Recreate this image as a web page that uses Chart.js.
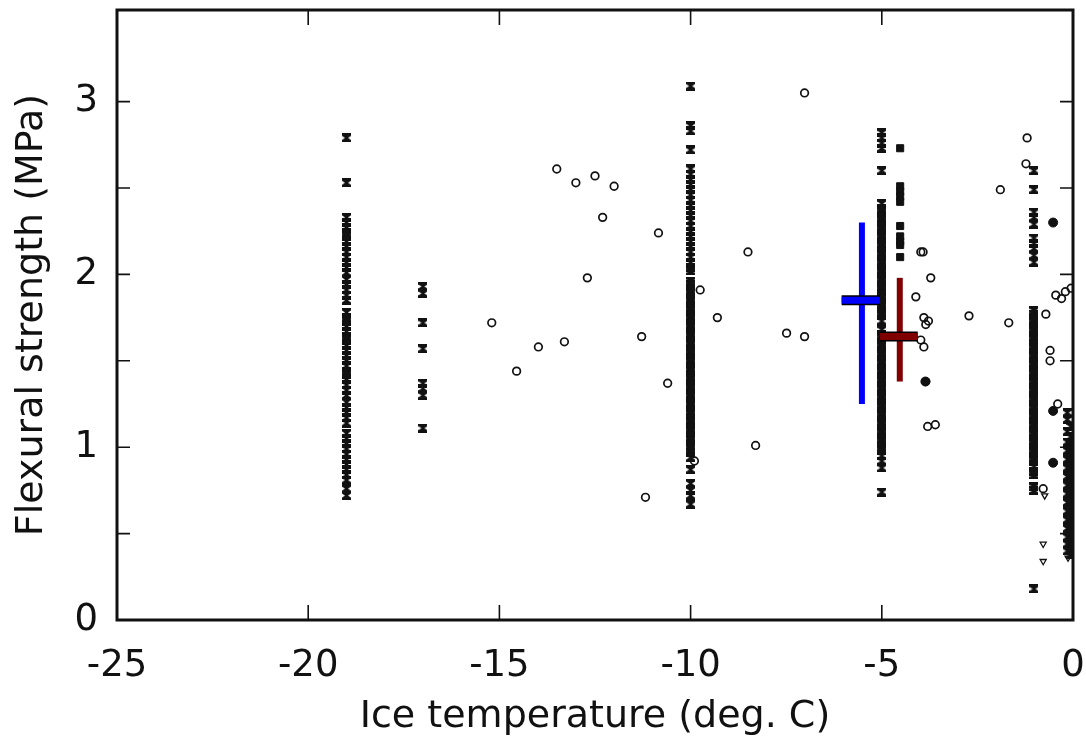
<!DOCTYPE html>
<html>
<head>
<meta charset="utf-8">
<style>
  body { margin: 0; background: #fff; }
  canvas { display: block; }
</style>
</head>
<body>
<canvas id="chart" width="1086" height="740"></canvas>
<script src="https://cdn.jsdelivr.net/npm/chart.js@4/dist/chart.umd.min.js"></script>
<script>
// test temperatures of the hourglass columns
const temp19 = -19, temp17 = -17, temp10 = -10, temp5 = -5, temp1 = -1.02;
const strength19 = [2.79, 2.53, 2.33, 2.30, 2.27, 2.24, 2.22, 2.19, 2.16, 2.13, 2.10, 2.07, 2.04, 2.01, 1.97, 1.94, 1.91, 1.88, 1.85,
  1.78, 1.75, 1.73, 1.70, 1.67, 1.64, 1.62, 1.59, 1.56, 1.53, 1.50, 1.47, 1.44, 1.42, 1.39, 1.36, 1.33, 1.30,
  1.26, 1.23, 1.20, 1.17, 1.14, 1.08, 1.05, 1.02, 0.99, 0.96, 0.93, 0.90, 0.87, 0.84, 0.81, 0.76, 0.72];
const strength17 = [1.93, 1.89, 1.72, 1.57, 1.37, 1.34, 1.30, 1.11];
const strength10 = [3.09, 2.86, 2.83, 2.72, 2.61, 2.58, 2.55, 2.52, 2.49, 2.46, 2.43, 2.40, 2.37, 2.34, 2.31,
  2.28, 2.25, 2.22, 2.19, 2.16, 2.13, 2.10, 2.07, 2.04, 2.02,
  1.96, 1.94, 1.91, 1.89, 1.86, 1.84, 1.81, 1.79, 1.76, 1.74, 1.71, 1.69, 1.66, 1.64, 1.61, 1.59, 1.56, 1.54,
  1.51, 1.49, 1.46, 1.44, 1.41, 1.39, 1.36, 1.34, 1.31, 1.29, 1.26, 1.24, 1.21, 1.19, 1.16, 1.14, 1.11, 1.09,
  1.06, 1.04, 1.01, 0.99, 0.97, 0.94, 0.87, 0.79, 0.75, 0.72, 0.67];
const strength5 = [2.82, 2.79, 2.76, 2.73, 2.60, 2.41, 2.38, 2.36, 2.33, 2.31, 2.28, 2.26, 2.23, 2.21, 2.18, 2.16, 2.13,
  2.11, 2.08, 2.06, 2.03, 2.01, 1.98, 1.96, 1.93, 1.91, 1.88, 1.86, 1.83, 1.81, 1.78, 1.76, 1.73,
  1.68, 1.65, 1.63, 1.60, 1.58, 1.55, 1.53, 1.50, 1.48, 1.45, 1.43, 1.40, 1.38, 1.35, 1.33, 1.30, 1.28, 1.25,
  1.23, 1.20, 1.18, 1.15, 1.13, 1.10, 1.08, 1.05, 1.03, 1.00, 0.98, 0.95, 0.92, 0.88, 0.74];
const strength1 = [2.60, 2.49, 2.36, 2.33, 2.29, 2.21, 2.18, 2.15, 2.11, 2.07,
  1.79, 1.77, 1.74, 1.72, 1.69, 1.67, 1.64, 1.62, 1.59, 1.57, 1.54, 1.52, 1.49, 1.47, 1.44, 1.42, 1.39, 1.37,
  1.34, 1.32, 1.29, 1.27, 1.24, 1.22, 1.19, 1.17, 1.14, 1.12, 1.09, 1.07, 1.04, 1.02, 0.99, 0.97, 0.94, 0.92,
  0.89, 0.86, 0.84, 0.77, 0.75, 0.18];
// dense stack right next to 0 deg C
const nearZeroTemp = [-0.15, -0.06, -0.15, -0.06, -0.15, -0.06, -0.15, -0.06, -0.15, -0.06, -0.15, -0.06, -0.15, -0.06,
  -0.15, -0.06, -0.15, -0.06, -0.15, -0.06, -0.15, -0.06, -0.15, -0.06, -0.15, -0.06, -0.15, -0.06, -0.15, -0.06,
  -0.15, -0.06, -0.15, -0.06];
const nearZeroStrength = [1.16, 1.12, 1.09, 1.06, 1.03, 1.00, 0.98, 0.96, 0.93, 0.91, 0.88, 0.86, 0.83, 0.81, 0.78,
  0.76, 0.73, 0.71, 0.68, 0.66, 0.63, 0.61, 0.58, 0.56, 0.53, 0.51, 0.48, 0.46, 0.44, 0.42, 0.40, 0.38, 1.20, 1.02];
// squares
const squareTemp = -4.52;
const squareStrength = [2.73, 2.51, 2.48, 2.45, 2.42, 2.28, 2.22, 2.19, 2.17, 2.10];
// open circles
const circleTemp = [-15.2, -14.55, -13.98, -13.3, -13.5, -13.0, -12.5, -12.0, -12.3, -12.7, -11.28, -11.18, -10.6, -10.84,
  -9.75, -9.3, -8.5, -8.3, -7.49, -7.02, -7.02, -9.9,
  -3.98, -3.92, -3.72, -4.11, -3.9, -3.78, -3.85, -3.98, -3.9, -3.85, -3.8, -3.6,
  -2.72, -1.9, -1.68, -1.2, -1.23, -0.71, -0.45, -0.3, -0.2, -0.05, -0.6, -0.6, -0.4, -0.78];
const circleStrength = [1.72, 1.44, 1.58, 1.61, 2.61, 2.53, 2.57, 2.51, 2.33, 1.98, 1.64, 0.71, 1.37, 2.24,
  1.91, 1.75, 2.13, 1.01, 1.66, 1.64, 3.05, 0.92,
  2.13, 2.13, 1.98, 1.87, 1.75, 1.73, 1.71, 1.62, 1.58, 1.38, 1.12, 1.13,
  1.76, 2.49, 1.72, 2.79, 2.64, 1.77, 1.88, 1.86, 1.90, 1.92, 1.56, 1.50, 1.25, 0.76];
// filled circles
const dotTemp = [-0.52, -0.52, -0.52, -3.86];
const dotStrength = [2.30, 1.21, 0.91, 1.38];
// open down triangles
const triTemp = [-0.78, -0.78, -0.74, -0.13, -0.06];
const triStrength = [0.44, 0.34, 0.72, 0.36, 0.60];
// mean +/- spread crosses: blue, dark red
const crossTemp = [-5.52, -4.53];
const crossMean = [1.85, 1.64];
const crossLow = [1.25, 1.38];
const crossHigh = [2.30, 1.98];
const crossFrom = [-6.05, -5.05];
const crossTo = [-5.05, -4.06];
const crossColors = ['#0000ff', '#800000'];

const yTicks = [0, 0.5, 1, 1.5, 2, 2.5, 3];
const xTicks = [-20, -15, -10, -5];

const ink = '#111';
const fontFamily = 'DejaVu Sans';

function makeHourglass() {
  const c = document.createElement('canvas');
  c.width = 9; c.height = 9;
  const g = c.getContext('2d');
  g.fillStyle = ink;
  g.beginPath();
  g.moveTo(0, 0); g.lineTo(9, 0); g.lineTo(9, 2.5); g.lineTo(6, 4.5); g.lineTo(9, 6.5); g.lineTo(9, 9);
  g.lineTo(0, 9); g.lineTo(0, 6.5); g.lineTo(3, 4.5); g.lineTo(0, 2.5);
  g.closePath();
  g.fill();
  return c;
}
const hourglass = makeHourglass();

function column(t, vals) {
  return vals.map(v => ({ x: t, y: v }));
}
function pairs(xs, ys) {
  return xs.map((x, i) => ({ x: x, y: ys[i] }));
}

const hourglassPoints = [].concat(
  column(temp19, strength19), column(temp17, strength17), column(temp10, strength10),
  column(temp5, strength5), column(temp1, strength1), pairs(nearZeroTemp, nearZeroStrength));

const datasets = [];

// horizontal bars (on top), then outlines, then vertical lines
crossTemp.forEach((t, i) => {
  datasets.push({
    data: [{ x: crossFrom[i], y: crossMean[i] }, { x: crossTo[i], y: crossMean[i] }],
    showLine: true, borderColor: crossColors[i], borderWidth: 7, pointRadius: 0, borderCapStyle: 'butt', order: 0
  });
  datasets.push({
    data: [{ x: crossFrom[i], y: crossMean[i] }, { x: crossTo[i], y: crossMean[i] }],
    showLine: true, borderColor: '#000', borderWidth: 10, pointRadius: 0, borderCapStyle: 'butt', order: 1
  });
  datasets.push({
    data: [{ x: t, y: crossLow[i] }, { x: t, y: crossHigh[i] }],
    showLine: true, borderColor: crossColors[i], borderWidth: 6, pointRadius: 0, borderCapStyle: 'butt', order: 2
  });
});

datasets.push({
  data: hourglassPoints, pointStyle: hourglass, pointRadius: 4.5, order: 5
});
datasets.push({
  data: column(squareTemp, squareStrength), pointStyle: 'rect', pointRadius: 5,
  backgroundColor: ink, borderColor: ink, borderWidth: 1, order: 5
});
datasets.push({
  data: pairs(circleTemp, circleStrength), pointStyle: 'circle', pointRadius: 3.8,
  backgroundColor: 'rgba(255,255,255,0)', borderColor: ink, borderWidth: 1.7, order: 5
});
datasets.push({
  data: pairs(dotTemp, dotStrength), pointStyle: 'circle', pointRadius: 4.5,
  backgroundColor: ink, borderColor: ink, borderWidth: 1, order: 5
});
datasets.push({
  data: pairs(triTemp, triStrength), pointStyle: 'triangle', pointRotation: 180, pointRadius: 3.5,
  backgroundColor: 'rgba(255,255,255,0)', borderColor: ink, borderWidth: 1.3, order: 5
});

// inward ticks on all four sides plus the box
const frameTicks = {
  id: 'frameTicks',
  afterDatasetsDraw(chart) {
    const { ctx, chartArea: a, scales: { x, y } } = chart;
    ctx.save();
    ctx.strokeStyle = ink;
    ctx.lineWidth = 1.6;
    ctx.beginPath();
    yTicks.forEach(v => {
      const py = y.getPixelForValue(v);
      ctx.moveTo(a.left, py); ctx.lineTo(a.left + 13, py);
      ctx.moveTo(a.right, py); ctx.lineTo(a.right - 13, py);
    });
    xTicks.forEach(v => {
      const px = x.getPixelForValue(v);
      ctx.moveTo(px, a.bottom); ctx.lineTo(px, a.bottom - 15);
      ctx.moveTo(px, a.top); ctx.lineTo(px, a.top + 15);
    });
    ctx.stroke();
    ctx.lineWidth = 3;
    ctx.strokeRect(a.left, a.top, a.right - a.left, a.bottom - a.top);
    ctx.restore();
  }
};

new Chart(document.getElementById('chart').getContext('2d'), {
  type: 'scatter',
  data: { datasets: datasets },
  options: {
    responsive: false,
    animation: false,
    devicePixelRatio: 1,
    layout: { padding: { left: 0, top: 10, right: 13, bottom: 0 } },
    plugins: {
      legend: { display: false },
      tooltip: { enabled: false }
    },
    scales: {
      x: {
        type: 'linear', min: -25, max: 0,
        afterFit(s) { s.height = 120; s.paddingLeft = 0; s.paddingRight = 0; },
        grid: { display: false },
        border: { display: false },
        ticks: { stepSize: 5, autoSkip: false, maxRotation: 0, padding: 16, color: ink,
                 font: { family: fontFamily, size: 37 } },
        title: { display: true, text: 'Ice temperature (deg. C)', color: ink,
                 font: { family: fontFamily, size: 38 }, padding: { top: 0, bottom: 0 } }
      },
      y: {
        type: 'linear', min: 0, max: 3.53,
        afterFit(s) { s.width = 117; s.paddingTop = 0; s.paddingBottom = 0; },
        grid: { display: false },
        border: { display: false },
        ticks: { stepSize: 1, padding: 11, color: ink, font: { family: fontFamily, size: 37 },
                 callback: v => Number.isInteger(v) ? v : '' },
        title: { display: true, text: 'Flexural strength (MPa)', color: ink,
                 font: { family: fontFamily, size: 38 }, padding: { top: 9, bottom: 0 } }
      }
    }
  },
  plugins: [frameTicks]
});
</script>
</body>
</html>
